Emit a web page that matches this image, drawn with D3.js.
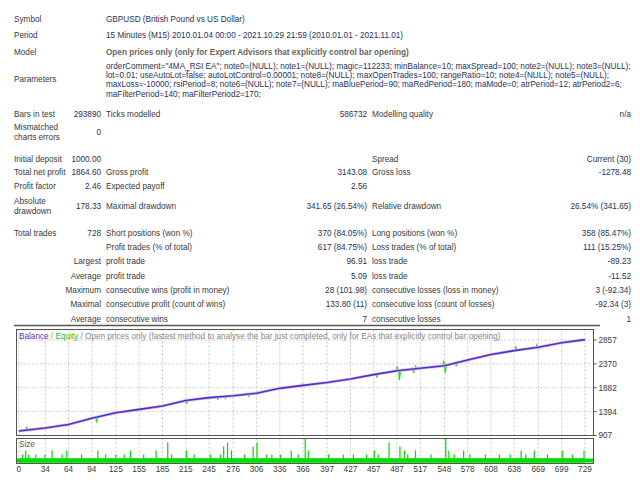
<!DOCTYPE html>
<html>
<head>
  <meta charset="UTF-8">
  <style>
    body { margin: 0; background: #fff; }
    svg text { font-family: "Liberation Sans", Arial, sans-serif; font-size: 8.2px; }
  </style>
</head>
<body>
<svg width="640" height="480"></svg>
<script src="https://d3js.org/d3.v7.min.js"></script>
<script>
// report rows
let headRows = [
  [19, "Symbol", "GBPUSD (British Pound vs US Dollar)"],
  [35, "Period", "15 Minutes (M15) 2010.01.04 00:00 - 2021.10.29 21:59 (2010.01.01 - 2021.11.01)"],
  [52, "Model", "Open prices only (only for Expert Advisors that explicitly control bar opening)"]
];
let paramLines = [
  'orderComment="4MA_RSI EA"; note0=(NULL); note1=(NULL); magic=112233; minBalance=10; maxSpread=100; note2=(NULL); note3=(NULL);',
  'lot=0.01; useAutoLot=false; autoLotControl=0.00001; note8=(NULL); maxOpenTrades=100; rangeRatio=10; note4=(NULL); note5=(NULL);',
  'maxLoss=-10000; rsiPeriod=8; note6=(NULL); note7=(NULL); maBluePeriod=90; maRedPeriod=180; maMode=0; atrPeriod=12; atrPeriod2=6;',
  'maFilterPeriod=140; maFilterPeriod2=170;'
];
let statRows = [
  [114, ["Bars in test"], "start", "293890", "Ticks modelled", "586732", "Modelling quality", "n/a"],
  [132, ["Mismatched", "charts errors"], "start", "0", "", "", "", ""],
  [159, ["Initial deposit"], "start", "1000.00", "", "", "Spread", "Current (30)"],
  [172, ["Total net profit"], "start", "1864.60", "Gross profit", "3143.08", "Gross loss", "-1278.48"],
  [186, ["Profit factor"], "start", "2.46", "Expected payoff", "2.56", "", ""],
  [206, ["Absolute", "drawdown"], "start", "178.33", "Maximal drawdown", "341.65 (26.54%)", "Relative drawdown", "26.54% (341.65)"],
  [233, ["Total trades"], "start", "728", "Short positions (won %)", "370 (84.05%)", "Long positions (won %)", "358 (85.47%)"],
  [247, [""], "end", "", "Profit trades (% of total)", "617 (84.75%)", "Loss trades (% of total)", "111 (15.25%)"],
  [261, ["Largest"], "end", "", "profit trade", "96.91", "loss trade", "-89.23"],
  [276, ["Average"], "end", "", "profit trade", "5.09", "loss trade", "-11.52"],
  [290, ["Maximum"], "end", "", "consecutive wins (profit in money)", "28 (101.98)", "consecutive losses (loss in money)", "3 (-92.34)"],
  [304, ["Maximal"], "end", "", "consecutive profit (count of wins)", "133.80 (11)", "consecutive loss (count of losses)", "-92.34 (3)"],
  [319, ["Average"], "end", "", "consecutive wins", "7", "consecutive losses", "1"]
];

// balance curve read at the x tick trades
let tradeIdx = [0, 34, 64, 94, 125, 155, 185, 215, 245, 276, 306, 336, 366, 397, 427, 457, 487, 517, 548, 578, 608, 638, 669, 699, 729];
let balance = [1000, 1060, 1130, 1260, 1370, 1440, 1510, 1620, 1680, 1720, 1770, 1870, 1930, 1990, 2060, 2150, 2230, 2280, 2330, 2450, 2560, 2640, 2710, 2800, 2864];
// equity excursions: [trade, delta]
let equityMoves = [[10, 70], [100, -110], [216, -70], [256, -60], [266, -40], [296, -40], [365, 25], [461, -70], [487, 90], [490, -200], [508, -80], [511, 50], [547, 110], [549, -150], [563, -70], [640, 60], [667, 50], [669, -40]];
let yTicks = [907, 1394, 1882, 2370, 2857];
// lot size spikes: [trade, size]  (all other trades size 1)
let sizeSpikes = [[4, 2], [8, 3], [12, 2], [21, 2], [33, 2], [42, 3], [55, 2], [61, 3], [80, 2], [101, 3], [111, 2], [124, 2], [135, 2], [143, 3], [160, 2], [176, 3], [191, 5], [196, 2], [215, 3], [225, 2], [246, 2], [259, 2], [263, 4], [268, 5], [273, 3], [290, 2], [301, 4], [306, 5], [318, 2], [325, 2], [336, 2], [350, 3], [359, 2], [368, 6], [372, 3], [398, 2], [417, 2], [430, 2], [447, 2], [457, 3], [462, 2], [476, 5], [490, 4], [496, 3], [500, 2], [510, 3], [530, 2], [549, 6], [553, 3], [560, 2], [572, 3], [580, 2], [600, 2], [618, 2], [632, 2], [646, 3], [652, 2], [663, 3], [680, 2], [699, 3], [712, 2], [727, 3]];

let svg = d3.select("svg");
let ink = "#3a3a3a", val = "#27325a";

headRows.forEach(r => {
  svg.append("text").attr("x", 14).attr("y", r[0]).attr("dy", "0.35em").attr("fill", ink).text(r[1]);
  svg.append("text").attr("x", 106).attr("y", r[0]).attr("dy", "0.35em").attr("fill", r[1] == "Model" ? "#666" : val)
    .attr("font-weight", r[1] == "Model" ? "bold" : null).text(r[2]);
});
svg.append("text").attr("x", 14).attr("y", 79).attr("dy", "0.35em").attr("fill", ink).text("Parameters");
paramLines.forEach((l, i) => {
  svg.append("text").attr("x", 106).attr("y", 66 + i * 9.3).attr("dy", "0.35em").attr("fill", val).attr("font-size", "7.9px").text(l);
});

statRows.forEach(r => {
  let [yy, lab, anch, v1, l2, v2, l3, v3] = r;
  lab.forEach((t, i) => {
    svg.append("text").attr("x", anch == "end" ? 101 : 14).attr("y", yy + (i - (lab.length - 1) / 2) * 10.5)
      .attr("dy", "0.35em").attr("text-anchor", anch).attr("fill", ink).text(t);
  });
  svg.append("text").attr("x", 101).attr("y", yy).attr("dy", "0.35em").attr("text-anchor", "end").attr("fill", val).text(v1);
  svg.append("text").attr("x", 106).attr("y", yy).attr("dy", "0.35em").attr("fill", ink).text(l2);
  svg.append("text").attr("x", 367).attr("y", yy).attr("dy", "0.35em").attr("text-anchor", "end").attr("fill", val).text(v2);
  svg.append("text").attr("x", 372).attr("y", yy).attr("dy", "0.35em").attr("fill", ink).text(l3);
  svg.append("text").attr("x", 631).attr("y", yy).attr("dy", "0.35em").attr("text-anchor", "end").attr("fill", val).text(v3);
});
svg.append("line").attr("x1", 14).attr("x2", 600).attr("y1", 325.5).attr("y2", 325.5).attr("stroke", "#555").attr("stroke-width", 1.5);

// chart
let L = 16.5, R = 593.5, T = 329.5, B = 435.5, sT = 438.5, sB = 463.5;
let x = d3.scaleLinear().domain([-3, 740]).range([L, R]);
let y = d3.scaleLinear().domain([907, 2857]).range([B, 340]);
let ys = d3.scaleLinear().domain([0, 5]).range([sB - 1, sT + 4]);

let grid = svg.append("g").attr("stroke", "#c8c8c8").attr("stroke-dasharray", "2,2");
tradeIdx.forEach(t => grid.append("line").attr("x1", x(t)).attr("x2", x(t)).attr("y1", T).attr("y2", B));
yTicks.slice(1).forEach(v => grid.append("line").attr("x1", L).attr("x2", R).attr("y1", y(v)).attr("y2", y(v)));
tradeIdx.forEach(t => grid.append("line").attr("x1", x(t)).attr("x2", x(t)).attr("y1", sT).attr("y2", sB));

let balAt = d3.scaleLinear().domain(tradeIdx).range(balance);
let eqPts = [];
tradeIdx.forEach(t => eqPts.push([t, balAt(t)]));
equityMoves.forEach(m => { eqPts.push([m[0] - 0.5, balAt(m[0] - 0.5)], [m[0], balAt(m[0]) + m[1]], [m[0] + 1.5, balAt(m[0] + 1.5)]); });
eqPts.sort((a, b) => a[0] - b[0]);
let line = d3.line().x(d => x(d[0])).y(d => y(d[1]));
svg.append("path").attr("d", line(eqPts)).attr("fill", "none").attr("stroke", "#22dd22").attr("stroke-width", 1.3);
svg.append("path").attr("d", line(tradeIdx.map((t, i) => [t, balance[i]]))).attr("fill", "none").attr("stroke", "#d0c2f2").attr("stroke-width", 3);
svg.append("path").attr("d", line(tradeIdx.map((t, i) => [t, balance[i]]))).attr("fill", "none").attr("stroke", "#5a2cc6").attr("stroke-width", 1.6);

// size bars
let sizes = d3.range(0, 729).map(i => 1);
sizeSpikes.forEach(s => sizes[s[0]] = s[1]);
svg.append("g").selectAll("rect").data(sizes).enter().append("rect")
  .attr("x", (d, i) => x(i)).attr("width", 1.2).attr("y", d => ys(d)).attr("height", d => sB - 1 - ys(d)).attr("fill", "#00dd00");
svg.append("rect").attr("x", L).attr("width", R - L).attr("y", ys(1)).attr("height", sB - 1 - ys(1)).attr("fill", "#00dd00");

svg.append("rect").attr("x", L).attr("y", T).attr("width", R - L).attr("height", B - T).attr("fill", "none").attr("stroke", "#555");
svg.append("rect").attr("x", L).attr("y", sT).attr("width", R - L).attr("height", sB - sT).attr("fill", "none").attr("stroke", "#555");

let legend = svg.append("text").attr("x", 19).attr("y", 336).attr("dy", "0.35em").attr("font-size", "6.8px");
legend.append("tspan").attr("fill", "#5a2cc6").text("Balance");
legend.append("tspan").attr("fill", "#888").text(" / ");
legend.append("tspan").attr("fill", "#22bb22").text("Equity");
legend.append("tspan").attr("fill", "#888").text(" / Open prices only (fastest method to analyse the bar just completed, only for EAs that explicitly control bar opening)");
svg.append("text").attr("x", 19).attr("y", 444).attr("dy", "0.35em").attr("font-size", "6.8px").attr("fill", "#555").text("Size");

yTicks.forEach(v => {
  svg.append("line").attr("x1", R).attr("x2", R + 3).attr("y1", y(v)).attr("y2", y(v)).attr("stroke", "#555");
  svg.append("text").attr("x", R + 5).attr("y", y(v)).attr("dy", "0.35em").attr("font-size", "7px").attr("fill", ink).text(v);
});
tradeIdx.forEach(t => {
  svg.append("text").attr("x", x(t)).attr("y", 469).attr("dy", "0.35em").attr("text-anchor", "middle").attr("font-size", "7px").attr("fill", ink).text(t);
});
</script>
</body>
</html>
